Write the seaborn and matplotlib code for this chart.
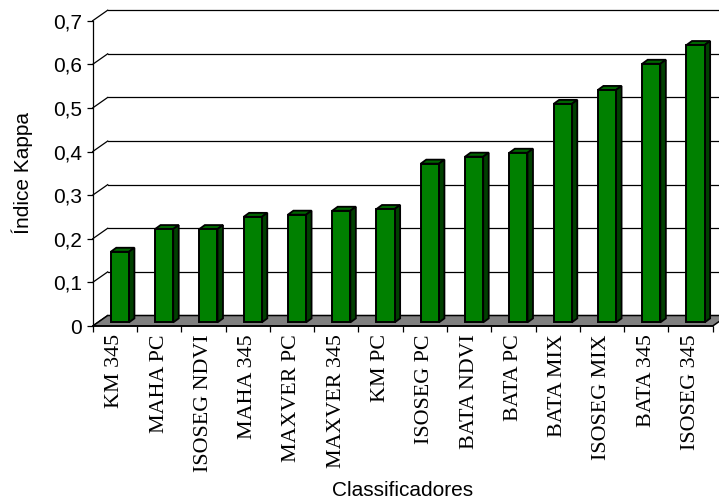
import numpy as np
import pandas as pd
import matplotlib
matplotlib.use("Agg")
import matplotlib.pyplot as plt
import seaborn as sns
from matplotlib.patches import Polygon
from matplotlib.lines import Line2D
from matplotlib.transforms import ScaledTranslation, IdentityTransform

# ---------------- data ----------------
categories = ["KM 345", "MAHA PC", "ISOSEG NDVI", "MAHA 345", "MAXVER PC",
              "MAXVER 345", "KM PC", "ISOSEG PC", "BATA NDVI", "BATA PC",
              "BATA MIX", "ISOSEG MIX", "BATA 345", "ISOSEG 345"]
kappa = [0.162, 0.214, 0.214, 0.242, 0.247, 0.256, 0.260,
         0.364, 0.380, 0.389, 0.501, 0.533, 0.593, 0.636]
y_ticks = [0.0, 0.1, 0.2, 0.3, 0.4, 0.5, 0.6, 0.7]
y_tick_labels = ["0", "0,1", "0,2", "0,3", "0,4", "0,5", "0,6", "0,7"]

# ---------------- style ----------------
SANS = "Liberation Sans"
SERIF = "Liberation Serif"
FRONT = "#008000"
TOP = "#006600"
SIDE = "#004000"
FLOOR = "#808080"

W_PX, H_PX = 719, 504
fig = plt.figure(figsize=(W_PX / 100, H_PX / 100), dpi=100)

ax_left, ax_right = 92.7, 712.7        # pixels
ax_top, ax_bottom = 20.7, 326.0        # pixels from top
ax = fig.add_axes([ax_left / W_PX, (H_PX - ax_bottom) / H_PX,
                   (ax_right - ax_left) / W_PX, (ax_bottom - ax_top) / H_PX])
ax.set_facecolor("none")

df = pd.DataFrame({"Classificadores": categories, "kappa": kappa})
sns.barplot(data=df, x="Classificadores", y="kappa", color=FRONT,
            saturation=1, width=0.41, edgecolor="black", linewidth=1.4,
            ax=ax, zorder=5)

n = len(categories)
ax.set_xlim(-0.5, n - 0.5)
ax.set_ylim(0, 0.7)

# 3D offsets (pixels)
DEPTH = np.array([15.0, 10.5])      # full floor / wall depth
BAR_FRONT = np.array([5.0, 3.6])    # where the bar front faces sit
BAR_DEPTH = np.array([5.5, 4.0])    # bar thickness

def px(dx, dy):
    return ScaledTranslation(dx / fig.dpi, dy / fig.dpi, fig.dpi_scale_trans)

ident = IdentityTransform()
td = ax.transData

# back wall gridlines
x0, x1 = ax.get_xlim()
for v in y_ticks[1:]:
    a = td.transform((x0, v)) + DEPTH
    b = td.transform((x1, v)) + DEPTH
    ax.add_line(Line2D([a[0], b[0]], [a[1], b[1]], color="black", lw=0.9,
                       transform=ident, clip_on=False, zorder=1))
# side wall diagonals
for v in y_ticks:
    a = td.transform((x0, v))
    b = a + DEPTH
    ax.add_line(Line2D([a[0], b[0]], [a[1], b[1]], color="black", lw=0.9,
                       transform=ident, clip_on=False, zorder=1))

# floor
f0 = td.transform((x0, 0))
f1 = td.transform((x1, 0))
floor = Polygon([f0, f1, f1 + DEPTH, f0 + DEPTH], closed=True,
                facecolor=FLOOR, edgecolor="black", lw=1.1,
                transform=ident, clip_on=False, zorder=2)
ax.add_patch(floor)

# bars: shift front faces and add top/side faces
bars = [p for p in ax.patches if p is not floor]
for p in bars:
    p.set_transform(td + px(*BAR_FRONT))
    p.set_clip_on(False)
    xb, wb, hb = p.get_x(), p.get_width(), p.get_height()
    fl = td.transform((xb, hb)) + BAR_FRONT
    fr = td.transform((xb + wb, hb)) + BAR_FRONT
    brb = td.transform((xb + wb, 0)) + BAR_FRONT
    top = Polygon([fl, fr, fr + BAR_DEPTH, fl + BAR_DEPTH], closed=True,
                  facecolor=TOP, edgecolor="black", lw=1.3,
                  transform=ident, clip_on=False, zorder=4)
    side = Polygon([fr, fr + BAR_DEPTH, brb + BAR_DEPTH, brb], closed=True,
                   facecolor=SIDE, edgecolor="black", lw=1.3,
                   transform=ident, clip_on=False, zorder=4)
    ax.add_patch(top)
    ax.add_patch(side)

# axes cosmetics
for s in ["top", "right"]:
    ax.spines[s].set_visible(False)
ax.spines["left"].set_color("black")
ax.spines["left"].set_linewidth(0.9)
ax.spines["bottom"].set_color("black")
ax.spines["bottom"].set_linewidth(1.1)
ax.spines["bottom"].set_zorder(3)

ax.set_yticks(y_ticks)
ax.set_yticklabels(y_tick_labels, fontfamily=SANS, fontsize=15)
ax.tick_params(axis="y", direction="out", length=4, width=0.9, pad=3.5,
               colors="black")

ax.set_xticks(range(n))
ax.set_xticklabels(categories, rotation=90, fontfamily=SERIF, fontsize=15.8)
ax.tick_params(axis="x", which="major", length=0, pad=6)
ax.set_xticks(np.arange(-0.5, n, 1.0), minor=True)
ax.tick_params(axis="x", which="minor", direction="out", length=4, width=0.9)

ax.set_ylabel("Índice Kappa", fontfamily=SANS, fontsize=15)
ax.yaxis.set_label_coords((33 - ax_left) / (ax_right - ax_left), 0.5)
ax.set_xlabel("Classificadores", fontfamily=SANS, fontsize=15)
ax.xaxis.label.set_va("center")
ax.xaxis.set_label_coords(0.5, -(491 - ax_bottom) / (ax_bottom - ax_top))

ax.set_xlim(-0.5, n - 0.5)
ax.set_ylim(0, 0.7)

fig.savefig("out.png", dpi=100)
